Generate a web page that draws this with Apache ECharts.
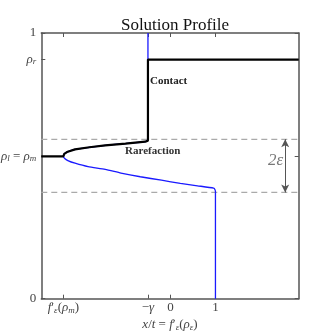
<!DOCTYPE html>
<html><head><meta charset="utf-8">
<script src="https://cdn.jsdelivr.net/npm/echarts@6/dist/echarts.min.js"></script>
<style>html,body{margin:0;padding:0;background:#fff}#c{width:332px;height:332px}</style>
</head><body><div id="c"></div>
<script>
const xMin = -2.87, xMax = 2.85;
const rhoM = 0.536, rhoR = 0.9, fpm = -2.38, gam = -0.5;
const xTickVals = [fpm, gam, 0, 1];
const yTickVals = [0, rhoM, rhoR, 1];
const yTickLabels = ['0', '{i|ρ}{s|l} = {i|ρ}{s|m}', '{i|ρ}{s|r}', '1'];
const dashLevels = [0.4, 0.6];
// blue: full characteristic speed curve (x, rho)
const blueX = [1, 1, 0.99, 0.96, 0.6, 0.22, -0.2, -0.67, -1.1, -1.45, -1.83, -2.12, -2.28, -2.35, -2.38, -2.36, -2.3, -2.12, -1.8, -1.45, -1.0, -0.56, -0.5, -0.5];
const blueY = [0, 0.402, 0.41, 0.416, 0.425, 0.434, 0.446, 0.459, 0.473, 0.487, 0.497, 0.51, 0.52, 0.528, 0.536, 0.545, 0.552, 0.562, 0.570, 0.577, 0.584, 0.591, 0.6, 1];
// black: solution profile
const blackX = [xMin, -2.38, -2.36, -2.3, -2.12, -1.8, -1.45, -1.0, -0.56, -0.5, -0.5, xMax];
const blackY = [0.536, 0.536, 0.545, 0.552, 0.562, 0.570, 0.577, 0.584, 0.591, 0.595, 0.9, 0.9];

const zip = (a, b) => a.map((v, i) => [v, b[i]]);
const serif = 'Liberation Serif';
const chart = echarts.init(document.getElementById('c'), null, {renderer: 'canvas'});
const xLabelFmt = v => {
  return Math.abs(v - fpm) < 1e-6 ? '{i|f}′{s|ε}({i|ρ}{s|m})' :
         Math.abs(v - gam) < 1e-6 ? '−{i|γ}' :
         Math.abs(v) < 1e-6 ? '0' : '1';
};
const yLabelFmt = v => {
  for (let i = 0; i < yTickVals.length; i++) if (Math.abs(v - yTickVals[i]) < 1e-6) return yTickLabels[i];
  return '';
};
const rich = {
  i: {fontStyle: 'italic', fontFamily: serif, fontSize: 13, color: '#444'},
  s: {fontStyle: 'italic', fontFamily: serif, fontSize: 9, color: '#444', verticalAlign: 'bottom', padding: [5, 0, 0, 0]}
};
const axisLine = {show: true, onZero: false, lineStyle: {color: '#555', width: 1.5}};
chart.setOption({
  animation: false,
  title: {text: 'Solution Profile', left: 170, top: 12, textAlign: 'center',
    textStyle: {fontFamily: serif, fontSize: 17, fontWeight: 'normal', color: '#111'}},
  grid: {left: 41.3, right: 33.3, top: 33, bottom: 33.3, outerBoundsMode: 'none', containLabel: false},
  xAxis: [{
    type: 'value', min: xMin, max: xMax, position: 'bottom',
    axisLine, splitLine: {show: false},
    axisTick: {show: true, inside: true, length: 4, customValues: xTickVals, lineStyle: {color: '#555'}},
    axisLabel: {show: true, customValues: xTickVals, formatter: xLabelFmt, margin: 2,
      fontFamily: serif, fontSize: 13, color: '#444', rich},
    name: '{i|x}/{i|t} = {i|f}′{s|ε}({i|ρ}{s|ε})', nameLocation: 'middle', nameGap: 19,
    nameMoveOverlap: false,
    nameTextStyle: {fontFamily: serif, fontSize: 13, color: '#444', rich}
  }, {
    type: 'value', min: xMin, max: xMax, position: 'top',
    axisLine, splitLine: {show: false}, axisLabel: {show: false},
    axisTick: {show: true, inside: true, length: 4, customValues: xTickVals, lineStyle: {color: '#555'}}
  }],
  yAxis: [{
    type: 'value', min: 0, max: 1, position: 'left',
    axisLine, splitLine: {show: false},
    axisTick: {show: true, inside: true, length: 4, customValues: yTickVals, lineStyle: {color: '#555'}},
    axisLabel: {show: true, customValues: yTickVals, formatter: yLabelFmt, margin: 5,
      fontFamily: serif, fontSize: 13, color: '#444', rich}
  }, {
    type: 'value', min: 0, max: 1, position: 'right',
    axisLine, splitLine: {show: false}, axisLabel: {show: false},
    axisTick: {show: true, inside: true, length: 4, customValues: yTickVals, lineStyle: {color: '#555'}}
  }],
  series: [
    ...dashLevels.map(l => ({
      type: 'line', data: [[xMin, l], [xMax, l]], symbol: 'none', silent: true,
      lineStyle: {color: '#aaa', width: 1.2, type: [6, 4]}
    })),
    {type: 'line', data: zip(blueX, blueY), symbol: 'none', smooth: 0.2,
      lineStyle: {color: '#1a1aff', width: 1.3}},
    {type: 'line', data: zip(blackX, blackY), symbol: 'none',
      lineStyle: {color: '#000', width: 2.2},
      markLine: {silent: true, symbol: ['arrow', 'arrow'], symbolSize: [6, 8],
        lineStyle: {color: '#555', width: 1, type: 'solid'}, label: {show: false},
        data: [[{coord: [2.55, dashLevels[1]]}, {coord: [2.55, dashLevels[0]]}]]}}
  ],
  graphic: [
    {type: 'text', left: 150, top: 76, style: {text: 'Contact', fontFamily: serif, fontSize: 11, fontWeight: 'bold', fill: '#222'}},
    {type: 'text', left: 125, top: 146, style: {text: 'Rarefaction', fontFamily: serif, fontSize: 11, fontWeight: 'bold', fill: '#333'}},
    {type: 'text', left: 268, top: 152, style: {text: '2ε', fontFamily: serif, fontSize: 17, fontStyle: 'italic', fill: '#777'}}
  ]
});
</script></body></html>
